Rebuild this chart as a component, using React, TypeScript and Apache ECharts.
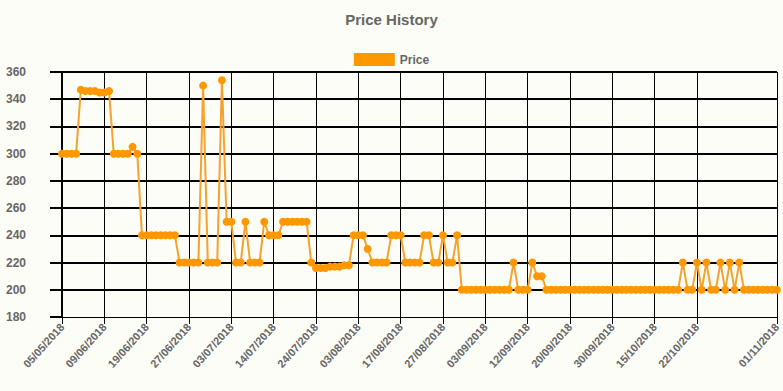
import React, { useEffect, useRef } from "react";
import * as echarts from "echarts";

// Tick labels shown on the x axis and the point index each belongs to
const tickLabels = [
  "05/05/2018", "09/06/2018", "19/06/2018", "27/06/2018", "03/07/2018", "14/07/2018",
  "24/07/2018", "03/08/2018", "17/08/2018", "27/08/2018", "03/09/2018", "12/09/2018",
  "20/09/2018", "30/09/2018", "15/10/2018", "22/10/2018", "01/11/2018",
];
const tickIndices = [0, 9, 18, 27, 36, 45, 54, 63, 72, 81, 90, 99, 108, 117, 126, 135, 152];

// Price values, one per observation (153 observations)
const prices = [
  300, 300, 300, 300,
  347, 346, 346, 346, 345, 345, 346,
  300, 300, 300, 300, 305, 300,
  240, 240, 240, 240, 240, 240, 240, 240,
  220, 220, 220, 220, 220,
  350,
  220, 220, 220,
  354,
  250, 250,
  220, 220,
  250,
  220, 220, 220,
  250,
  240, 240, 240,
  250, 250, 250, 250, 250, 250,
  220,
  216, 216, 216, 217, 217, 217, 218, 218,
  240, 240, 240,
  230,
  220, 220, 220, 220,
  240, 240, 240,
  220, 220, 220, 220,
  240, 240,
  220, 220,
  240,
  220, 220,
  240,
  200, 200, 200, 200, 200, 200, 200, 200, 200, 200, 200,
  220,
  200, 200, 200,
  220,
  210, 210,
  200, 200, 200, 200, 200, 200, 200, 200, 200, 200,
  200, 200, 200, 200, 200, 200, 200, 200, 200, 200,
  200, 200, 200, 200, 200, 200, 200, 200, 200,
  220, 200, 200, 220, 200, 220, 200, 200, 220, 200, 220, 200, 220,
  200, 200, 200, 200, 200, 200, 200, 200,
];

const categories = prices.map((_, i) => {
  const k = tickIndices.indexOf(i);
  return k >= 0 ? tickLabels[k] : "#" + i;
});

const isTick = (index: number) => tickIndices.indexOf(index) >= 0;

const FONT = "'Liberation Sans', Arial, sans-serif";

export default function App() {
  const ref = useRef<HTMLDivElement>(null);
  useEffect(() => {
    if (!ref.current) return;
    const chart = echarts.init(ref.current, undefined, { renderer: "svg" });
    chart.setOption({
      animation: false,
      backgroundColor: "#fdfdf7",
      textStyle: { fontFamily: FONT },
      title: {
        text: "Price History",
        left: "center",
        top: 7,
        textStyle: { fontSize: 15, fontWeight: "bold", color: "#666", fontFamily: FONT },
      },
      legend: {
        data: ["Price"],
        top: 48,
        left: "center",
        icon: "rect",
        itemWidth: 41,
        itemHeight: 13,
        itemGap: 5,
        textStyle: { fontSize: 12, fontWeight: "bold", color: "#666", fontFamily: FONT },
      },
      grid: { left: 62, right: 6, top: 72, bottom: 74, containLabel: false },
      xAxis: {
        type: "category",
        data: categories,
        boundaryGap: false,
        axisLine: { show: true, lineStyle: { color: "#000", width: 1 } },
        axisTick: {
          show: true,
          interval: (index: number) => isTick(index),
          length: 7,
          lineStyle: { color: "#000", width: 1 },
        },
        splitLine: {
          show: true,
          interval: (index: number) => isTick(index),
          lineStyle: { color: "#000", width: 1 },
        },
        axisLabel: {
          interval: (index: number) => isTick(index),
          rotate: 48,
          margin: 8,
          fontSize: 11,
          fontWeight: "bold",
          color: "#666",
          fontFamily: FONT,
        },
      },
      yAxis: {
        type: "value",
        min: 180,
        max: 360,
        interval: 20,
        axisLine: { show: true, lineStyle: { color: "#000", width: 2 } },
        axisTick: { show: true, length: 12, lineStyle: { color: "#000", width: 2 } },
        splitLine: { show: true, showMinLine: false, lineStyle: { color: "#000", width: 2 } },
        axisLabel: {
          margin: 36,
          fontSize: 12,
          fontWeight: "bold",
          color: "#666",
          fontFamily: FONT,
        },
      },
      series: [
        {
          name: "Price",
          type: "line",
          data: prices,
          symbol: "circle",
          symbolSize: 8,
          showAllSymbol: true,
          itemStyle: { color: "#ff9800" },
          lineStyle: { color: "#f5a22e", width: 2 },
        },
      ],
    });
    return () => chart.dispose();
  }, []);
  return (
    <div
      ref={ref}
      style={{ position: "absolute", left: 0, top: 0, width: 783, height: 391 }}
    />
  );
}
